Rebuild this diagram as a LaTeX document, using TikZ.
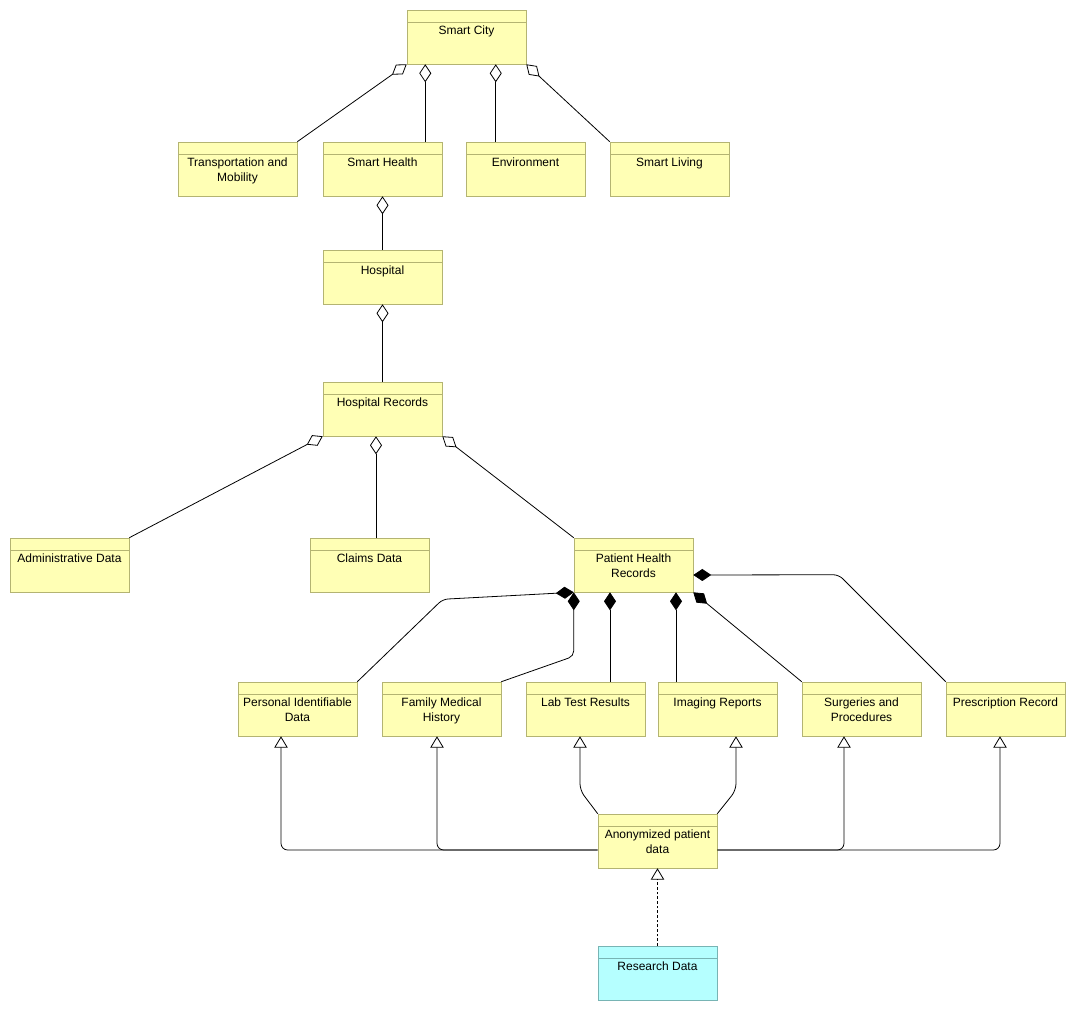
\documentclass[tikz,border=0pt]{standalone}
\usepackage{fontspec}
\setmainfont{Liberation Sans}
\usetikzlibrary{arrows.meta, calc}

\definecolor{clsfill}{HTML}{FFFFB5}
\definecolor{clsline}{HTML}{B4B472}
\definecolor{datfill}{HTML}{B5FFFF}
\definecolor{datline}{HTML}{78B4B4}

\begin{document}
\begin{tikzpicture}[x=0.75pt, y=-0.75pt,
    cls/.style={draw=clsline, fill=clsfill, minimum width=89.25pt, minimum height=40.5pt, inner sep=0pt,
        path picture={\draw[clsline] ([yshift=-9pt]path picture bounding box.north west) -- ([yshift=-9pt]path picture bounding box.north east);}},
    dat/.style={cls, draw=datline, fill=datfill,
        path picture={\draw[datline] ([yshift=-9pt]path picture bounding box.north west) -- ([yshift=-9pt]path picture bounding box.north east);}},
    lbl/.style={anchor=north, align=center, inner sep=0pt, font=\fontsize{9}{11.25}\selectfont},
    agg/.style={{Diamond[open, length=13.5pt, width=9pt]}-, line width=0.6pt},
    comp/.style={{Diamond[length=13.5pt, width=9pt]}-, line width=0.6pt, rounded corners=4pt},
    gen/.style={-{Triangle[open, length=8.5pt, width=10pt]}, line width=0.6pt, rounded corners=5pt}]
    \useasboundingbox (0,0) rectangle (1076,1011);
    % boxes
    \foreach \n/\x/\y/\s/\t in {city/466.5/37/cls/Smart City,
        trans/237.5/169/cls/{Transportation and\\Mobility}, health/382.5/169/cls/Smart Health,
        env/525.5/169/cls/Environment, living/669.5/169/cls/Smart Living,
        hosp/382.5/277/cls/Hospital, hrec/382.5/409/cls/Hospital Records,
        admin/69.5/565/cls/Administrative Data, claims/369.5/565/cls/Claims Data,
        phr/633.5/565/cls/{Patient Health\\Records},
        pid/297.5/709/cls/{Personal Identifiable\\Data}, fmh/441.5/709/cls/{Family Medical\\History},
        lab/585.5/709/cls/Lab Test Results, img/717.5/709/cls/Imaging Reports,
        surg/861.5/709/cls/{Surgeries and\\Procedures}, presc/1005.5/709/cls/Prescription Record,
        anon/657.5/841/cls/{Anonymized patient\\data}, res/657.5/973/dat/Research Data}
    {
    \node [\s] (\n) at (\x,\y) {};
    \node [lbl] at ([yshift=-12.2pt]\n.north) {\t};
    }
    % aggregation
    \coordinate (h1) at ($(health.north east)+(-17,0)$);
    \coordinate (e1) at ($(env.north west)+(30,0)$);
    \coordinate (c1) at ($(claims.north)+(6.5,0)$);
    \draw [agg] (city.south west) -- (trans.north east);
    \draw [agg] (h1 |- city.south) -- (h1);
    \draw [agg] (e1 |- city.south) -- (e1);
    \draw [agg] (city.south east) -- (living.north west);
    \draw [agg] (health.south) -- (hosp.north);
    \draw [agg] (hosp.south) -- (hrec.north);
    \draw [agg] (hrec.south west) -- (admin.north east);
    \draw [agg] (c1 |- hrec.south) -- (c1);
    \draw [agg] (hrec.south east) -- (phr.north west);
    % composition
    \coordinate (l1) at ($(lab.north)+(24.5,0)$);
    \coordinate (i1) at ($(img.north)+(-41.5,0)$);
    \coordinate (p1) at ($(phr.east)+(0,10)$);
    \coordinate (p2) at ($(presc.north west)+(-107,-107)$);
    \draw [comp] (phr.south west) -- ++(-131,7) -- (pid.north east);
    \draw [comp] (phr.south west) -- ++(0,64) -- (fmh.north east);
    \draw [comp] (l1 |- phr.south) -- (l1);
    \draw [comp] (i1 |- phr.south) -- (i1);
    \draw [comp] (phr.south east) -- (surg.north west);
    \draw [comp] (p1) -- (p2) -- (presc.north west);
    % generalization
    \coordinate (a1) at ($(anon.west)+(0,9)$);
    \coordinate (a2) at ($(anon.east)+(0,9)$);
    \coordinate (g1) at ($(pid.south)+(-16.5,0)$);
    \coordinate (g2) at ($(fmh.south)+(-4.5,0)$);
    \coordinate (g3) at ($(lab.south)+(-5.5,0)$);
    \coordinate (g4) at ($(img.south)+(18.5,0)$);
    \coordinate (g5) at ($(surg.south)+(-17.5,0)$);
    \coordinate (g6) at ($(presc.south)+(-5.5,0)$);
    \draw [gen] (a1) -- (g1 |- a1) -- (g1);
    \draw [gen] (a1) -- (g2 |- a1) -- (g2);
    \draw [gen] (anon.north west) -- ($(g3)+(0,54)$) -- (g3);
    \draw [gen] (anon.north east) -- ($(g4)+(0,54)$) -- (g4);
    \draw [gen] (a2) -- (g5 |- a2) -- (g5);
    \draw [gen] (a2) -- (g6 |- a2) -- (g6);
    \draw [gen, dashed, dash pattern=on 2pt off 1.5pt] (res.north) -- (anon.south);
\end{tikzpicture}
\end{document}
